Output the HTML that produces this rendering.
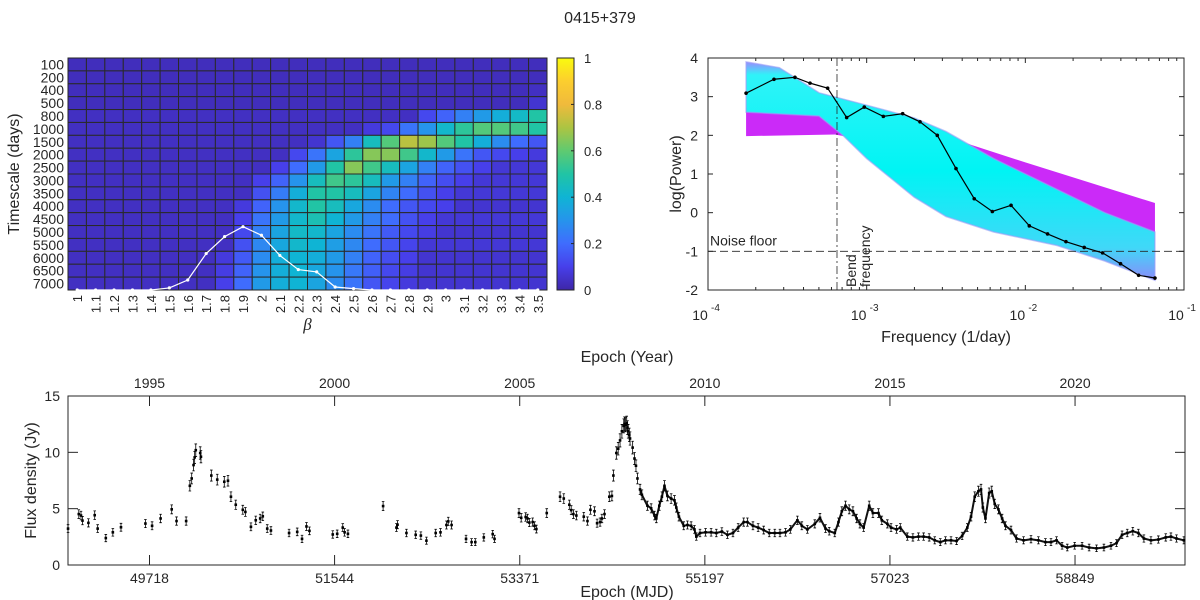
<!DOCTYPE html>
<html><head><meta charset="utf-8"><style>
body{margin:0;background:#fff;}
svg{display:block;font-family:"Liberation Sans",sans-serif;}
text{fill:#262626;}
</style></head><body>
<svg id="fig" width="1200" height="600" viewBox="0 0 1200 600" xmlns="http://www.w3.org/2000/svg">
<text x="600" y="23" font-size="16" text-anchor="middle">0415+379</text>
<g id="heat"></g>
<g id="cbar"></g>
<g id="psd"></g>
<g id="lc"></g>
</svg>
<script>
const NS="http://www.w3.org/2000/svg";
function mk(parent,tag,attrs,txt){const e=document.createElementNS(NS,tag);for(const k in attrs)e.setAttribute(k,attrs[k]);if(txt!==undefined)e.textContent=txt;parent.appendChild(e);return e;}

// ---------- Heatmap data ----------
const betaLabels=["1","1.1","1.2","1.3","1.4","1.5","1.6","1.7","1.8","1.9","2","2.1","2.2","2.3","2.4","2.5","2.6","2.7","2.8","2.9","3","3.1","3.2","3.3","3.4","3.5"];
const timescaleLabels=["100","200","400","500","800","1000","1500","2000","2500","3000","3500","4000","4500","5000","5500","6000","6500","7000"];
const heatValues=[
[.03,.03,.03,.03,.03,.03,.03,.03,.03,.03,.03,.03,.03,.03,.03,.03,.03,.03,.03,.03,.03,.03,.03,.03,.03,.03],
[.03,.03,.03,.03,.03,.03,.03,.03,.03,.03,.03,.03,.03,.03,.03,.03,.03,.03,.03,.03,.03,.03,.03,.03,.03,.03],
[.03,.03,.03,.03,.03,.03,.03,.03,.03,.03,.03,.03,.03,.03,.03,.03,.03,.03,.03,.03,.03,.03,.03,.03,.03,.04],
[.03,.03,.03,.03,.03,.03,.03,.03,.03,.03,.03,.03,.03,.03,.03,.03,.03,.03,.03,.03,.03,.03,.03,.03,.03,.06],
[.04,.04,.04,.04,.04,.04,.04,.04,.04,.04,.04,.04,.04,.04,.04,.04,.04,.04,.04,.12,.18,.25,.32,.38,.43,.50],
[.04,.04,.04,.04,.04,.04,.04,.04,.04,.04,.04,.04,.04,.04,.04,.04,.08,.12,.22,.30,.42,.52,.58,.58,.55,.50],
[.04,.04,.04,.04,.04,.04,.04,.04,.04,.04,.04,.04,.04,.06,.15,.25,.45,.58,.72,.68,.58,.50,.38,.28,.20,.15],
[.04,.04,.04,.04,.04,.04,.04,.04,.04,.04,.04,.04,.12,.22,.35,.52,.65,.65,.55,.42,.32,.22,.15,.12,.10,.08],
[.04,.04,.04,.04,.04,.04,.04,.04,.04,.04,.04,.10,.20,.32,.50,.65,.55,.45,.35,.25,.18,.14,.10,.07,.07,.07],
[.04,.04,.04,.04,.04,.04,.04,.04,.04,.04,.10,.18,.30,.45,.55,.52,.45,.32,.25,.18,.13,.10,.07,.07,.07,.07],
[.04,.04,.04,.04,.04,.04,.04,.04,.04,.04,.14,.24,.38,.50,.50,.45,.35,.26,.20,.14,.10,.07,.07,.07,.07,.07],
[.04,.04,.04,.04,.04,.04,.04,.04,.04,.08,.18,.30,.42,.50,.45,.36,.28,.20,.15,.12,.10,.06,.06,.06,.06,.06],
[.04,.04,.04,.04,.04,.04,.04,.04,.04,.10,.22,.32,.42,.47,.40,.32,.25,.20,.14,.10,.07,.07,.07,.07,.07,.07],
[.04,.04,.04,.04,.04,.04,.04,.04,.04,.12,.25,.35,.43,.42,.35,.28,.22,.16,.12,.09,.06,.06,.06,.06,.06,.06],
[.04,.04,.04,.04,.04,.04,.04,.04,.04,.14,.27,.36,.42,.40,.33,.27,.20,.15,.11,.07,.07,.07,.07,.07,.07,.07],
[.04,.04,.04,.04,.04,.04,.04,.04,.08,.16,.28,.38,.40,.38,.32,.25,.18,.13,.10,.06,.06,.06,.06,.06,.06,.06],
[.04,.04,.04,.04,.04,.04,.04,.04,.09,.18,.30,.38,.40,.36,.30,.23,.17,.12,.09,.06,.06,.06,.06,.06,.06,.06],
[.04,.04,.04,.04,.04,.04,.04,.04,.10,.20,.32,.38,.40,.35,.28,.22,.15,.11,.08,.06,.06,.06,.06,.06,.06,.06]];
const betaProb=[0,0,0,0,0,0.009,0.043,0.157,0.23,0.273,0.236,0.149,0.088,0.078,0.013,0.006,0,0,0,0,0,0,0,0,0,0];
const cbarTicks=[0,0.2,0.4,0.6,0.8,1];

// ---------- PSD data ----------
const psdLogFreq=[-3.76,-3.584,-3.452,-3.357,-3.246,-3.126,-3.015,-2.895,-2.773,-2.664,-2.555,-2.437,-2.322,-2.208,-2.09,-1.975,-1.86,-1.744,-1.629,-1.513,-1.40,-1.286,-1.183];
const psdLogPower=[3.09,3.45,3.50,3.35,3.22,2.46,2.73,2.49,2.56,2.35,2.00,1.14,0.36,0.03,0.19,-0.34,-0.55,-0.75,-0.90,-1.04,-1.32,-1.62,-1.69];
const magentaBand=[[-3.76,2.72],[-3.3,2.75],[-3.1,2.62],[-2.6,2.1],[-2.0,1.3],[-1.183,0.25],[-1.183,-0.9],[-2.5,1.5],[-3.2,2.02],[-3.76,1.98]];
const cyanBand=[[-3.76,3.9],[-3.55,3.75],[-3.3,3.1],[-3.0,2.78],[-2.7,2.45],[-2.5,2.1],[-2.2,1.4],[-1.9,0.8],[-1.5,0.0],[-1.183,-0.5],[-1.183,-1.75],[-1.5,-1.25],[-1.8,-0.85],[-2.2,-0.5],[-2.5,-0.1],[-2.7,0.4],[-3.0,1.4],[-3.15,2.0],[-3.3,2.5],[-3.76,2.6]];
const bendLogFreq=-3.187;
const noiseFloor=-1;
const psdYTicks=[4,3,2,1,0,-1,-2];
const psdXTicks=[-4,-3,-2,-1];

// ---------- Light curve data (decimal year, Jy) ----------
const lcYear=[1992.80,1993.09,1993.15,1993.19,1993.35,1993.52,1993.60,1993.82,1994.01,1994.23,1994.89,1995.07,1995.30,1995.60,1995.73,1995.99,1996.09,1996.14,1996.19,1996.22,1996.25,1996.37,1996.39,1996.67,1996.83,1997.02,1997.12,1997.20,1997.33,1997.52,1997.59,1997.74,1997.87,1997.99,1998.06,1998.18,1998.28,1998.77,1998.99,1999.12,1999.24,1999.32,1999.95,2000.07,2000.22,2000.27,2000.36,2001.31,2001.67,2001.70,2001.94,2002.19,2002.33,2002.48,2002.73,2002.86,2003.02,2003.07,2003.16,2003.55,2003.70,2003.80,2004.03,2004.27,2004.32,2004.98,2005.04,2005.16,2005.21,2005.26,2005.35,2005.40,2005.45,2005.73,2006.09,2006.19,2006.34,2006.39,2006.45,2006.53,2006.73,2006.83,2006.91,2007.02,2007.09,2007.17,2007.22,2007.29,2007.42,2007.49,2007.53,2007.61,2007.66,2007.71,2007.76,2007.81,2007.83,2007.86,2007.89,2007.91,2007.93,2007.96,2007.98,
2008.05,2008.10,2008.14,2008.18,2008.25,2008.30,2008.45,2008.55,2008.64,2008.69,2008.77,2008.84,2008.91,2008.99,2009.09,2009.18,2009.23,2009.30,2009.43,2009.53,2009.63,2009.72,2009.77,2009.87,2010.02,2010.17,2010.31,2010.46,2010.61,2010.76,2010.90,2011.05,2011.15,2011.30,2011.44,2011.59,2011.74,2011.89,2012.03,2012.18,2012.31,2012.50,2012.62,2012.77,2012.97,2013.11,2013.26,2013.36,2013.51,2013.61,2013.70,2013.80,2013.90,2014.00,2014.10,2014.19,2014.29,2014.44,2014.54,2014.69,2014.78,2014.93,2015.03,2015.18,2015.28,2015.47,2015.62,2015.77,2015.91,2016.06,2016.21,2016.36,2016.50,2016.65,2016.80,2016.95,2017.09,2017.19,2017.29,2017.39,2017.46,2017.51,2017.58,2017.68,2017.75,2017.83,2017.93,2018.03,2018.12,2018.27,2018.42,2018.61,2018.81,2019.01,2019.20,2019.35,2019.50,2019.65,2019.79,2019.99,2020.19,2020.38,2020.58,2020.78,2020.97,2021.12,2021.27,2021.41,2021.56,2021.71,2021.86,2022.05,2022.25,2022.45,2022.59,2022.74,2022.94];
const lcFlux=[3.23,4.52,4.39,3.94,3.74,4.42,3.23,2.39,2.90,3.35,3.68,3.48,4.13,4.94,3.90,3.90,7.03,7.68,8.87,9.55,10.19,9.94,9.61,7.94,7.58,7.39,7.48,6.06,5.35,4.90,4.71,3.39,3.97,4.13,4.32,3.23,3.06,2.84,2.94,2.32,3.42,3.03,2.71,2.77,3.32,2.90,2.77,5.23,3.32,3.58,2.84,2.68,2.61,2.16,2.84,2.90,3.55,3.87,3.55,2.32,2.03,2.03,2.45,2.74,2.32,4.61,4.19,4.26,4.13,3.77,3.81,3.48,3.19,4.61,6.06,5.90,5.35,4.87,4.52,4.39,4.29,3.90,4.90,4.77,3.71,3.81,4.13,4.52,6.06,6.13,7.94,9.94,10.32,11.06,11.87,12.35,12.52,12.45,12.58,12.19,11.87,11.55,11.23,
10.42,9.45,8.81,7.68,6.71,6.23,5.26,5.03,4.39,4.13,5.26,6.06,7.03,6.13,5.90,5.74,5.10,4.29,3.48,3.55,3.48,3.16,2.52,2.84,2.90,2.90,2.84,2.97,2.68,2.84,3.32,3.81,3.81,3.48,3.32,3.10,2.84,2.84,2.84,2.90,3.16,3.97,3.48,3.16,3.65,4.19,3.23,3.00,2.84,3.81,4.77,5.26,4.94,4.77,4.13,3.65,3.32,5.26,4.61,4.61,3.97,3.65,3.32,3.16,3.32,2.52,2.45,2.52,2.52,2.45,2.19,2.03,2.19,2.19,2.13,2.58,3.32,4.29,6.06,6.55,6.71,5.10,4.13,6.39,6.55,5.42,4.94,4.13,3.48,3.10,2.35,2.19,2.29,2.19,2.03,2.03,2.19,1.71,1.55,1.71,1.71,1.55,1.48,1.55,1.71,1.94,2.68,2.84,3.00,2.84,2.35,2.19,2.26,2.45,2.52,2.35,2.19];
const mjdTicks=[49718,51544,53371,55197,57023,58849];
const yearTicks=[1995,2000,2005,2010,2015,2020];
const fluxTicks=[0,5,10,15];

// ---------- colormap ----------
const stops=[[0,62,38,168],[0.1,71,63,234],[0.2,63,108,254],[0.3,38,148,236],[0.4,15,180,212],[0.5,33,196,165],[0.6,95,202,112],[0.7,172,196,66],[0.8,240,186,60],[0.9,252,206,46],[1,249,251,14]];
function parula(v){v=Math.max(0,Math.min(1,v));for(let i=1;i<stops.length;i++){if(v<=stops[i][0]){const a=stops[i-1],b=stops[i],t=(v-a[0])/(b[0]-a[0]);return `rgb(${Math.round(a[1]+t*(b[1]-a[1]))},${Math.round(a[2]+t*(b[2]-a[2]))},${Math.round(a[3]+t*(b[3]-a[3]))})`;}}return "rgb(249,251,14)";}

// ---------- Heatmap ----------
(function(){
const g=document.getElementById('heat');
const X0=68,X1=547,Y0=58,Y1=290;
const cw=(X1-X0)/betaLabels.length, rh=(Y1-Y0)/timescaleLabels.length;
const xc=i=>X0+(i+0.5)*cw, yr=j=>Y0+j*rh;
heatValues.forEach((row,j)=>row.forEach((v,i)=>{
 const r=mk(g,'rect',{x:X0+i*cw,y:yr(j),width:cw,height:rh,fill:parula(v),stroke:'#2a2a2a','stroke-width':1});
 
 
}));
const box=mk(g,'rect',{x:X0,y:Y0,width:X1-X0,height:Y1-Y0,fill:'none',stroke:'#262626','stroke-width':1});

timescaleLabels.forEach((t,j)=>{const e=mk(g,'text',{x:X0-4,y:yr(j)+rh/2+5,'font-size':14,'text-anchor':'end'},t);
 });
betaLabels.forEach((t,i)=>{const e=mk(g,'text',{x:0,y:0,'font-size':13,'text-anchor':'end',transform:`translate(${xc(i)+5},${Y1+5}) rotate(-90)`},t);
 });
const yt=mk(g,'text',{x:0,y:0,'font-size':16,'text-anchor':'middle',transform:`translate(19,${(Y0+Y1)/2}) rotate(-90)`},'Timescale (days)');

const xt=mk(g,'text',{x:(X0+X1)/2,y:330,'font-size':17,'font-style':'italic','text-anchor':'middle','font-family':'Liberation Serif, serif'},'β');

const pts=betaProb.map((p,i)=>[xc(i),Y1-p*(Y1-Y0)]);
const pl=mk(g,'polyline',{points:pts.map(p=>p.join(',')).join(' '),fill:'none',stroke:'#fff','stroke-width':1.2});

pts.forEach(p=>{const c=mk(g,'circle',{cx:p[0],cy:p[1],r:1.6,fill:'#fff'});});
})();

// ---------- Colorbar ----------
(function(){
const g=document.getElementById('cbar');
const X0=557,X1=574,Y0=58,Y1=290;
const defs=mk(g,'defs',{});const lg=mk(defs,'linearGradient',{id:'pg',x1:0,y1:1,x2:0,y2:0});
for(let k=0;k<=20;k++){mk(lg,'stop',{offset:k/20,'stop-color':parula(k/20)});}
const r=mk(g,'rect',{x:X0,y:Y0,width:X1-X0,height:Y1-Y0,fill:'url(#pg)',stroke:'#262626','stroke-width':1});

cbarTicks.forEach(t=>{const y=Y1-t*(Y1-Y0);
 const l=mk(g,'line',{x1:X1-3,x2:X1,y1:y,y2:y,stroke:'#262626'});
 const e=mk(g,'text',{x:X1+10,y:y+5,'font-size':13},String(t));});
})();

// ---------- PSD ----------
(function(){
const g=document.getElementById('psd');
const X0=708,X1=1184,Y0=58,Y1=290;
const xs=l=>X0+(l+4)*(X1-X0)/3, ys=v=>Y0+(4-v)*(Y1-Y0)/6;
const defs=mk(g,'defs',{});
const lg=mk(defs,'linearGradient',{id:'cg',x1:0,y1:0,x2:0,y2:1});
mk(lg,'stop',{offset:0,'stop-color':'#9a8cff'});mk(lg,'stop',{offset:0.06,'stop-color':'#2ff3f8'});mk(lg,'stop',{offset:0.5,'stop-color':'#00f4f4'});mk(lg,'stop',{offset:0.85,'stop-color':'#40d8f8'});mk(lg,'stop',{offset:1,'stop-color':'#8a8cfa'});
const poly=a=>a.map(p=>xs(p[0])+','+ys(p[1])).join(' ');
const m=mk(g,'polygon',{points:poly(magentaBand),fill:'#c81ff8',opacity:0.95});

const c=mk(g,'polygon',{points:poly(cyanBand),fill:'url(#cg)',stroke:'#9c9cf6','stroke-width':1.5,'stroke-opacity':0.6});

const nf=mk(g,'line',{x1:X0,x2:X1,y1:ys(noiseFloor),y2:ys(noiseFloor),stroke:'#262626','stroke-dasharray':'8,4','stroke-width':0.8});

const bf=mk(g,'line',{x1:xs(bendLogFreq),x2:xs(bendLogFreq),y1:Y0,y2:Y1,stroke:'#262626','stroke-dasharray':'8,3,2,3','stroke-width':0.8});

const pl=mk(g,'polyline',{points:psdLogFreq.map((f,i)=>xs(f)+','+ys(psdLogPower[i])).join(' '),fill:'none',stroke:'#000','stroke-width':1.2});

psdLogFreq.forEach((f,i)=>{const d=mk(g,'circle',{cx:xs(f),cy:ys(psdLogPower[i]),r:1.8,fill:'#000'});});
const nt=mk(g,'text',{x:X0+2,y:ys(noiseFloor)-6,'font-size':14},'Noise floor');
const b1=mk(g,'text',{x:0,y:0,'font-size':14,transform:`translate(${xs(bendLogFreq)+19},${Y1-3}) rotate(-90)`},'Bend');
const b2=mk(g,'text',{x:0,y:0,'font-size':14,transform:`translate(${xs(bendLogFreq)+33},${Y1-3}) rotate(-90)`},'frequency');
const box=mk(g,'rect',{x:X0,y:Y0,width:X1-X0,height:Y1-Y0,fill:'none',stroke:'#262626','stroke-width':1});

psdYTicks.forEach(v=>{const y=ys(v);
 mk(g,'line',{x1:X0,x2:X0+5,y1:y,y2:y,stroke:'#262626'});mk(g,'line',{x1:X1-5,x2:X1,y1:y,y2:y,stroke:'#262626'});
 const e=mk(g,'text',{x:X0-10,y:y+5,'font-size':14,'text-anchor':'end'},String(v));});
psdXTicks.forEach((d,k)=>{const x=xs(d);
 mk(g,'line',{x1:x,x2:x,y1:Y1,y2:Y1-5,stroke:'#262626'});mk(g,'line',{x1:x,x2:x,y1:Y0,y2:Y0+5,stroke:'#262626'});
 const e=mk(g,'text',{x:x-8,y:320,'font-size':14,'text-anchor':'middle'},'10');
 const s=mk(g,'text',{x:x+3,y:311,'font-size':10},String(d));
 if(k<psdXTicks.length-1){for(let m2=2;m2<10;m2++){const xm=xs(d+Math.log10(m2));mk(g,'line',{x1:xm,x2:xm,y1:Y1,y2:Y1-3,stroke:'#262626'});mk(g,'line',{x1:xm,x2:xm,y1:Y0,y2:Y0+3,stroke:'#262626'});}}
});
const xt=mk(g,'text',{x:(X0+X1)/2,y:342,'font-size':16,'text-anchor':'middle'},'Frequency (1/day)');
const yt=mk(g,'text',{x:0,y:0,'font-size':16,'text-anchor':'middle',transform:`translate(681,${(Y0+Y1)/2}) rotate(-90)`},'log(Power)');
})();

// ---------- Light curve ----------
(function(){
const g=document.getElementById('lc');
const X0=68,X1=1185,Y0=396,Y1=565;
const MJD0=48914,MJD1=59934;
const xm=m=>X0+(m-MJD0)*(X1-X0)/(MJD1-MJD0);
const yearToMjd=y=>49718+(y-1995)*365.25;
const ys=f=>Y1-f*(Y1-Y0)/15;
const box=mk(g,'rect',{x:X0,y:Y0,width:X1-X0,height:Y1-Y0,fill:'none',stroke:'#262626','stroke-width':1});

let seg=[];
const flush=()=>{if(seg.length>1){const p=mk(g,'polyline',{points:seg.join(' '),fill:'none',stroke:'#111','stroke-width':2,'stroke-linejoin':'round'});}seg=[];};
lcYear.forEach((y,i)=>{if(y>=2008.2){if(i>0&&y-lcYear[i-1]>0.22)flush();seg.push(xm(yearToMjd(y))+','+ys(lcFlux[i]));}});flush();
lcYear.forEach((y,i)=>{const x=xm(yearToMjd(y)),f=lcFlux[i],e=0.25+0.03*f;
 const eb=mk(g,'path',{d:`M${x},${ys(f+e)}V${ys(f-e)}M${x-1.3},${ys(f+e)}h2.6M${x-1.3},${ys(f-e)}h2.6`,stroke:'#000','stroke-width':0.8,fill:'none'});
 
 const r=mk(g,'rect',{x:x-1.3,y:ys(f)-1.3,width:2.6,height:2.6,fill:'#000'});
 });
fluxTicks.forEach(v=>{const y=ys(v);mk(g,'line',{x1:X0,x2:X0+10,y1:y,y2:y,stroke:'#262626'});mk(g,'line',{x1:X1-10,x2:X1,y1:y,y2:y,stroke:'#262626'});
 const e=mk(g,'text',{x:X0-8,y:y+5,'font-size':14,'text-anchor':'end'},String(v));});
mjdTicks.forEach(m=>{const x=xm(m);mk(g,'line',{x1:x,x2:x,y1:Y1,y2:Y1-10,stroke:'#262626'});
 const e=mk(g,'text',{x:x,y:583,'font-size':14,'text-anchor':'middle'},String(m));});
yearTicks.forEach(yv=>{const x=xm(yearToMjd(yv));mk(g,'line',{x1:x,x2:x,y1:Y0,y2:Y0+10,stroke:'#262626'});
 const e=mk(g,'text',{x:x,y:388,'font-size':14,'text-anchor':'middle'},String(yv));});
const t1=mk(g,'text',{x:627,y:362,'font-size':16,'text-anchor':'middle'},'Epoch (Year)');
const t2=mk(g,'text',{x:627,y:597,'font-size':16,'text-anchor':'middle'},'Epoch (MJD)');
const t3=mk(g,'text',{x:0,y:0,'font-size':16,'text-anchor':'middle',transform:`translate(36,${(Y0+Y1)/2}) rotate(-90)`},'Flux density (Jy)');
})();
</script>
</body></html>
